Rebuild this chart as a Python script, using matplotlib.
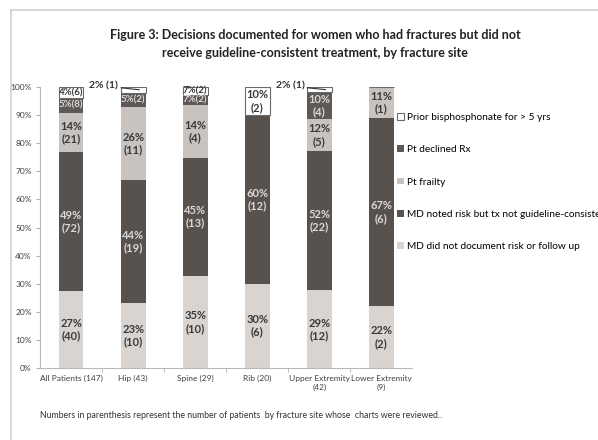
import numpy as np
import matplotlib.pyplot as plt
from matplotlib.lines import Line2D

plt.rcParams['font.family'] = ['Lato', 'DejaVu Sans']

categories = ['All Patients (147)', 'Hip (43)', 'Spine (29)', 'Rib (20)',
              'Upper Extremity\n(42)', 'Lower Extremity\n(9)']

# segment heights (100% stacked, bottom to top)
md_none = [27, 23, 35, 30, 29, 22]
md_noted = [49, 44, 45, 60, 52, 67]
pt_frailty = [14, 26, 20, 0, 12, 11]
pt_declined = [5, 5, 4, 0, 10, 0]
prior_bis = [4, 2, 3, 10, 2, 0]

# printed labels
md_none_lbl = ['27%\n(40)', '23%\n(10)', '35%\n(10)', '30%\n(6)', '29%\n(12)', '22%\n(2)']
md_noted_lbl = ['49%\n(72)', '44%\n(19)', '45%\n(13)', '60%\n(12)', '52%\n(22)', '67%\n(6)']
pt_frailty_lbl = ['14%\n(21)', '26%\n(11)', '14%\n(4)', '', '12%\n(5)', '11%\n(1)']
pt_declined_lbl = ['5%(8)', '5%(2)', '7%(2)', '', '10%\n(4)', '']
prior_bis_lbl = ['4%(6)', '2% (1)', '7%(2)', '10%\n(2)', '2% (1)', '']

series = [
    ('MD did not document risk or follow up', md_none, md_none_lbl, '#d9d4d0', '#3a3a3a'),
    ('MD noted risk but tx not guideline-consistent', md_noted, md_noted_lbl, '#58524f', '#dcd8d5'),
    ('Pt frailty', pt_frailty, pt_frailty_lbl, '#c9c3bf', '#3a3a3a'),
    ('Pt declined Rx', pt_declined, pt_declined_lbl, '#5e5856', '#dcd8d5'),
    ('Prior bisphosphonate for > 5 yrs', prior_bis, prior_bis_lbl, '#ffffff', '#3a3a3a'),
]

W, H = 598, 440
fig = plt.figure(figsize=(W / 100, H / 100), dpi=100)
ax = fig.add_axes([40 / W, 1 - 368 / H, (412.5 - 40) / W, (368 - 87) / H])

x = np.arange(len(categories))
totals = np.sum([s[1] for s in series], axis=0).astype(float)
bottom = np.zeros(len(categories))
handles = []
for name, vals, lbls, color, tcol in series:
    h = np.array(vals) / totals * 100
    edge = '#6a6a6a' if color == '#ffffff' else color
    bars = ax.bar(x, h, 0.4, bottom=bottom, color=color, edgecolor=edge,
                  linewidth=0.8 if color == '#ffffff' else 0, label=name)
    handles.append(bars)
    for xi, hi, bi, lb in zip(x, h, bottom, lbls):
        if not lb:
            continue
        if hi < 2.5:
            ax.annotate(lb, xy=(xi + 0.1, bi + hi / 2), xytext=(xi - 0.24, 100.4),
                        ha='right', va='center', fontsize=7.5, fontweight='bold',
                        color='#333333', annotation_clip=False,
                        arrowprops=dict(arrowstyle='-', color='#333333', lw=0.8,
                                        shrinkA=0, shrinkB=0))
        else:
            small = '\n' not in lb
            ax.text(xi, bi + hi / 2, lb, ha='center', va='center',
                    fontsize=7 if small else 8, fontweight='bold', color=tcol,
                    linespacing=1.15)
    bottom += h

ax.set_xlim(-0.5, 5.5)
ax.set_ylim(0, 100)
ax.set_yticks(np.arange(0, 101, 10))
ax.set_yticklabels([f'{v}%' for v in range(0, 101, 10)])
ax.set_xticks(x)
ax.set_xticklabels(categories, linespacing=1.3)
ax.set_xticks(np.arange(0.5, 5, 1), minor=True)
ax.tick_params(axis='y', labelsize=6, colors='#404040', length=3, color='#b0b0b0', pad=3)
ax.tick_params(axis='x', which='major', labelsize=6, colors='#404040', length=0, pad=5)
ax.tick_params(axis='x', which='minor', length=3, color='#b0b0b0')
for s in ['top', 'right']:
    ax.spines[s].set_visible(False)
for s in ['left', 'bottom']:
    ax.spines[s].set_color('#b8b8b8')

fig.legend(handles=handles[::-1], labels=[s[0] for s in series][::-1],
           loc='upper left', bbox_to_anchor=(397 / W, 1 - 113 / H), frameon=False,
           fontsize=7.3, handlelength=0.65, handleheight=0.65, handletextpad=0.3,
           labelspacing=2.3, borderaxespad=0, borderpad=0)

fig.text(315 / W, 1 - 35 / H,
         'Figure 3: Decisions documented for women who had fractures but did not',
         ha='center', va='center', fontsize=9, fontweight='bold', color='#222222')
fig.text(315 / W, 1 - 53 / H,
         'receive guideline-consistent treatment, by fracture site',
         ha='center', va='center', fontsize=9, fontweight='bold', color='#222222')
fig.text(40 / W, 1 - 415 / H,
         'Numbers in parenthesis represent the number of patients  by fracture site whose  charts were reviewed..',
         ha='left', va='center', fontsize=6.3, color='#333333')

# frame edges of the original slide
fig.add_artist(Line2D([11 / W, 11 / W], [0, 1 - 10 / H], color='#cfcfcf', lw=1.2))
fig.add_artist(Line2D([11 / W, 1], [1 - 10 / H, 1 - 10 / H], color='#cfcfcf', lw=1.2))

fig.savefig('out.png', dpi=100)
